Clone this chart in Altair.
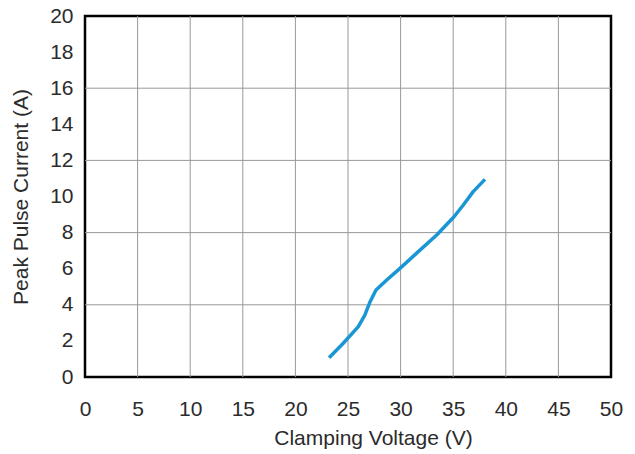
import altair as alt
import pandas as pd

voltage = [23.2, 24.55, 25.98, 26.6, 27.1, 27.66, 28.68, 29.94, 31.5, 33.43, 35.08, 35.96, 36.9, 38.02]
current = [1.07, 1.87, 2.79, 3.43, 4.17, 4.82, 5.37, 6.02, 6.85, 7.87, 8.88, 9.53, 10.27, 10.95]

x_ticks = [0, 5, 10, 15, 20, 25, 30, 35, 40, 45, 50]
y_ticks = [0, 2, 4, 6, 8, 10, 12, 14, 16, 18, 20]
x_grid = [5, 10, 15, 20, 25, 30, 35, 40, 45]
y_grid = [4, 8, 12, 16]

curve = pd.DataFrame({"v": voltage, "i": current})
xg = pd.DataFrame({"v": x_grid})
yg = pd.DataFrame({"i": y_grid})

FONT = "Liberation Sans"
TXT = "#2b2b2b"
FS = 21

xscale = alt.Scale(domain=[0, 50], nice=False)
yscale = alt.Scale(domain=[0, 20], nice=False)

xaxis = alt.Axis(values=x_ticks, title="Clamping Voltage (V)", grid=False, ticks=False,
                 domain=False, labelPadding=21, titlePadding=8, labelFontSize=FS,
                 titleFontSize=FS, labelColor=TXT, titleColor=TXT, labelFont=FONT,
                 titleFont=FONT, titleFontWeight="normal", labelFlush=False,
                 titleX=288, titleAlign="center", titleAnchor="start")
yaxis = alt.Axis(values=y_ticks, title="Peak Pulse Current (A)", grid=False, ticks=False,
                 domain=False, labelPadding=12, titlePadding=18, labelFontSize=FS,
                 titleFontSize=FS, labelColor=TXT, titleColor=TXT, labelFont=FONT,
                 titleFont=FONT, titleFontWeight="normal", labelFlush=False)

vgrid = alt.Chart(xg).mark_rule(color="#999999", strokeWidth=1).encode(
    x=alt.X("v:Q", scale=xscale, axis=xaxis))
hgrid = alt.Chart(yg).mark_rule(color="#999999", strokeWidth=1).encode(
    y=alt.Y("i:Q", scale=yscale, axis=yaxis))
line = alt.Chart(curve).mark_line(color="#1a96d4", strokeWidth=3.5, interpolate="linear",
                                  strokeCap="butt", strokeJoin="round").encode(
    x=alt.X("v:Q", scale=xscale, axis=xaxis),
    y=alt.Y("i:Q", scale=yscale, axis=yaxis))

chart = alt.layer(vgrid, hgrid, line).properties(
    width=526, height=361,
    autosize=alt.AutoSizeParams(type="none"),
    padding={"left": 85, "top": 16, "right": 24, "bottom": 77},
    background="white",
).configure_view(stroke="black", strokeWidth=2.5)

chart.save("out.html", embed_options={"renderer": "svg", "actions": False})
